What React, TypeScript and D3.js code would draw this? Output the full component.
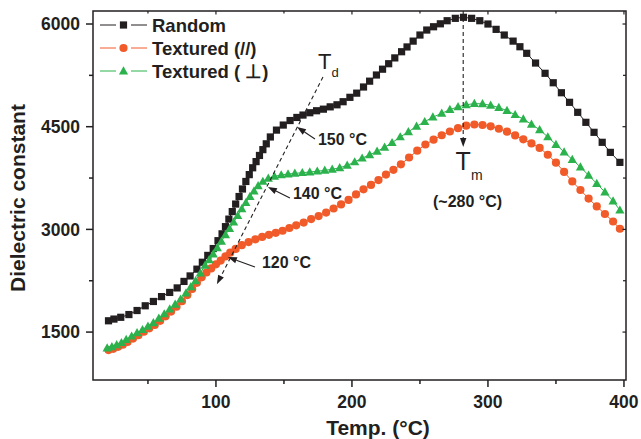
import React from "react";
import * as d3 from "d3";

const randomTemps = [21, 25, 30, 36, 42, 48, 54, 60, 66, 71.5, 76.5, 81, 86, 90, 94, 98, 101.5, 104.5, 107, 109.5, 112, 114.5, 117, 119.5, 122, 124.5, 127, 129.5, 132, 134.5, 137, 140, 144.5, 149.5, 154.5, 159.5, 164, 169, 174, 179, 184, 189, 193.5, 198.5, 203.5, 208.5, 213, 218, 222.5, 227, 231.5, 236.5, 240.5, 245, 250, 255, 260, 265, 270, 276, 282, 288, 294, 300, 306, 312, 318.5, 323.5, 328.5, 335, 342, 348, 354, 360, 366, 372, 378, 384, 390, 397];
const randomVals = [1665, 1690, 1716, 1756, 1815, 1884, 1947, 2018, 2079, 2145, 2240, 2320, 2419, 2520, 2620, 2720, 2835, 2935, 3040, 3150, 3260, 3370, 3480, 3590, 3700, 3800, 3900, 3990, 4080, 4165, 4250, 4350, 4450, 4524, 4590, 4635, 4670, 4704, 4733, 4756, 4790, 4820, 4865, 4929, 4990, 5080, 5165, 5255, 5340, 5420, 5505, 5595, 5665, 5750, 5839, 5912, 5960, 6003, 6048, 6083, 6098, 6083, 6048, 6000, 5922, 5839, 5750, 5668, 5572, 5430, 5280, 5142, 4996, 4856, 4710, 4564, 4418, 4272, 4125, 3979];

const parallelTemps = [21, 24.5, 28, 31.5, 35, 39, 43, 47, 51, 55, 59, 63, 67, 71, 75, 79, 82.5, 86, 89.5, 93, 96.5, 100, 103.5, 107, 110.5, 114.5, 119, 124, 129, 134, 139, 144, 149, 154, 159, 164.5, 170, 175.5, 181, 186.5, 192, 197.5, 203, 208.5, 214, 219.5, 225, 230.5, 236, 242, 248, 254, 260, 266, 272, 278, 284, 290, 296, 302, 308, 314, 320, 326, 332, 338, 344, 350, 356, 362, 368, 374, 380, 386, 392, 397];
const parallelVals = [1237, 1255, 1285, 1315, 1355, 1405, 1455, 1505, 1555, 1605, 1665, 1730, 1800, 1870, 1950, 2040, 2130, 2220, 2300, 2370, 2430, 2490, 2545, 2605, 2660, 2715, 2770, 2815, 2855, 2890, 2920, 2950, 2980, 3020, 3060, 3100, 3150, 3195, 3245, 3305, 3365, 3430, 3510, 3585, 3650, 3720, 3800, 3870, 3950, 4050, 4150, 4240, 4310, 4375, 4430, 4478, 4515, 4532, 4525, 4505, 4470, 4428, 4373, 4315, 4255, 4190, 4090, 3975, 3840, 3700, 3575, 3450, 3335, 3225, 3115, 3009];

const perpTemps = [20, 23.5, 27, 30.5, 34, 38, 42, 46, 50, 54, 58, 62, 66, 70, 74, 78, 81.5, 85, 88.5, 92, 95, 98, 101, 104, 107, 110, 113, 116, 119, 122, 125, 128, 131, 134.5, 138.5, 143, 148, 153, 158, 163.5, 169, 174.5, 180, 185.5, 191, 196.5, 202, 207.5, 213, 218.5, 224, 229.5, 235.5, 241.5, 247.5, 253.5, 259.5, 266, 272, 278, 284, 290, 296, 302, 308, 314, 320, 326, 332, 338, 344, 350, 356, 362, 368, 374, 380, 386, 392, 397];
const perpVals = [1265, 1285, 1315, 1345, 1390, 1440, 1490, 1535, 1585, 1635, 1700, 1765, 1835, 1905, 1980, 2070, 2160, 2250, 2360, 2475, 2555, 2640, 2730, 2825, 2920, 3010, 3105, 3200, 3300, 3390, 3480, 3560, 3635, 3700, 3745, 3775, 3795, 3808, 3818, 3828, 3838, 3850, 3862, 3878, 3900, 3935, 3985, 4040, 4090, 4140, 4200, 4266, 4350, 4426, 4505, 4573, 4640, 4695, 4750, 4790, 4820, 4838, 4833, 4812, 4780, 4735, 4675, 4610, 4535, 4455, 4350, 4240, 4130, 4020, 3910, 3790, 3670, 3545, 3415, 3280];

const xMajorTicks = [100, 200, 300, 400];
const xMinorTicks = [50, 150, 250, 350];
const yMajorTicks = [1500, 3000, 4500, 6000];
const yMinorTicks = [2250, 3750, 5250];
const legendLabels = ["Random", "Textured (//)", "Textured ( \u22A5)"];

const W = 641;
const H = 439;
const INK = "#231f20";
const RED = "#f15a29";
const GREEN = "#2bb24c";
const FONT = "'Liberation Sans', Arial, Helvetica, sans-serif";

const x = d3.scaleLinear().domain([9.6, 401.5]).range([93, 626]);
const y = d3.scaleLinear().domain([800, 6190]).range([380, 11]);

function Arrow({ x1, y1, x2, y2, dash }: { x1: number; y1: number; x2: number; y2: number; dash?: string }) {
  const ang = Math.atan2(y2 - y1, x2 - x1);
  const L = 9, Wd = 3.2;
  const bx = x2 - L * Math.cos(ang), by = y2 - L * Math.sin(ang);
  const px = -Math.sin(ang) * Wd, py = Math.cos(ang) * Wd;
  return (
    <g>
      <line x1={x1} y1={y1} x2={bx} y2={by} stroke={INK} strokeWidth={1.1} strokeDasharray={dash} />
      <path d={`M${x2},${y2}L${bx + px},${by + py}L${bx - px},${by - py}Z`} fill={INK} />
    </g>
  );
}

function Marker({ kind, cx, cy }: { kind: number; cx: number; cy: number }) {
  if (kind === 0) return <rect x={cx - 3.6} y={cy - 3.6} width={7.2} height={7.2} fill={INK} />;
  if (kind === 1) return <circle cx={cx} cy={cy} r={4.1} fill={RED} />;
  return <path d={`M${cx},${cy - 4.8}L${cx + 4.6},${cy + 3.4}L${cx - 4.6},${cy + 3.4}Z`} fill={GREEN} />;
}

export default function App() {
  const series = [
    { temps: randomTemps, vals: randomVals, kind: 0, color: INK },
    { temps: parallelTemps, vals: parallelVals, kind: 1, color: RED },
    { temps: perpTemps, vals: perpVals, kind: 2, color: GREEN },
  ];
  const line = (temps: number[], vals: number[]) =>
    d3.line<number>().x((_, i) => x(temps[i])).y((v) => y(v))(vals) || "";

  const left = x.range()[0], right = x.range()[1];
  const top = y.range()[1], bottom = y.range()[0];

  return (
    <svg width={W} height={H} style={{ position: "absolute", left: 0, top: 0, background: "#fff" }} fontFamily={FONT}>
      {series.map((s, si) => (
        <g key={si}>
          <path d={line(s.temps, s.vals)} fill="none" stroke={s.color} strokeWidth={1} />
          {s.vals.map((v, i) => (
            <Marker key={i} kind={s.kind} cx={x(s.temps[i])} cy={y(v)} />
          ))}
        </g>
      ))}

      <rect x={left} y={top} width={right - left} height={bottom - top} fill="none" stroke={INK} strokeWidth={1.5} />

      {xMajorTicks.map((t) => (
        <g key={"xm" + t}>
          <line x1={x(t)} x2={x(t)} y1={bottom} y2={bottom + 7} stroke={INK} strokeWidth={1.5} />
          <line x1={x(t)} x2={x(t)} y1={top} y2={top + 3.5} stroke={INK} strokeWidth={1.2} />
          <text x={x(t)} y={408} textAnchor="middle" fontSize={17.5} fontWeight="bold" fill={INK}>{t}</text>
        </g>
      ))}
      {xMinorTicks.map((t) => (
        <g key={"xn" + t}>
          <line x1={x(t)} x2={x(t)} y1={bottom} y2={bottom + 4} stroke={INK} strokeWidth={1.5} />
          <line x1={x(t)} x2={x(t)} y1={top} y2={top + 2.5} stroke={INK} strokeWidth={1.2} />
        </g>
      ))}

      {yMajorTicks.map((t) => (
        <g key={"ym" + t}>
          <line x1={left - 7} x2={left} y1={y(t)} y2={y(t)} stroke={INK} strokeWidth={1.5} />
          <line x1={right - 3.5} x2={right} y1={y(t)} y2={y(t)} stroke={INK} strokeWidth={1.2} />
          <text x={80} y={y(t)} dy="0.36em" textAnchor="end" fontSize={17.5} fontWeight="bold" fill={INK}>{t}</text>
        </g>
      ))}
      {yMinorTicks.map((t) => (
        <g key={"yn" + t}>
          <line x1={left - 4} x2={left} y1={y(t)} y2={y(t)} stroke={INK} strokeWidth={1.5} />
          <line x1={right - 3} x2={right} y1={y(t)} y2={y(t)} stroke={INK} strokeWidth={1.2} />
        </g>
      ))}

      <text x={378} y={435} textAnchor="middle" fontSize={21} fontWeight="bold" fill={INK}>Temp. (°C)</text>
      <text transform={`translate(24.5,198) rotate(-90)`} textAnchor="middle" fontSize={21} fontWeight="bold" fill={INK}>Dielectric constant</text>

      {legendLabels.map((lab, i) => {
        const ly = 25 + i * 23;
        const col = series[i].color;
        return (
          <g key={"lg" + i}>
            <line x1={100} x2={116} y1={ly} y2={ly} stroke={col} strokeWidth={1} />
            <line x1={131} x2={147} y1={ly} y2={ly} stroke={col} strokeWidth={1} />
            <Marker kind={i} cx={123.5} cy={ly} />
            <text x={152} y={ly} dy="0.36em" fontSize={18.5} fontWeight="bold" fill={INK}>{lab}</text>
          </g>
        );
      })}

      <Arrow x1={x(178.7)} y1={y(5226)} x2={x(100.7)} y2={y(2200)} dash="4,3" />
      <text x={x(175)} y={y(5338)} fontSize={22} fill={INK}>T</text>
      <text x={x(185)} y={y(5226)} fontSize={13} fill={INK}>d</text>

      <Arrow x1={x(172.8)} y1={y(4320)} x2={x(159.6)} y2={y(4495)} />
      <text x={x(175)} y={y(4232)} fontSize={16} fontWeight="bold" fill={INK}>150 °C</text>
      <Arrow x1={x(154.4)} y1={y(3458)} x2={x(138.2)} y2={y(3618)} />
      <text x={x(156.6)} y={y(3443)} fontSize={16} fontWeight="bold" fill={INK}>140 °C</text>
      <Arrow x1={x(128.7)} y1={y(2450)} x2={x(108.8)} y2={y(2596)} />
      <text x={x(133.8)} y={y(2435)} fontSize={16} fontWeight="bold" fill={INK}>120 °C</text>

      <Arrow x1={x(281.8)} y1={top} x2={x(281.8)} y2={y(4203)} dash="4,3" />
      <text x={x(281.8)} y={y(3867)} textAnchor="middle" fontSize={25} fill={INK}>T</text>
      <text x={x(287.5)} y={y(3721)} fontSize={14} fill={INK}>m</text>
      <text x={x(285)} y={y(3326)} textAnchor="middle" fontSize={16} fontWeight="bold" fill={INK}>(~280 °C)</text>
    </svg>
  );
}
